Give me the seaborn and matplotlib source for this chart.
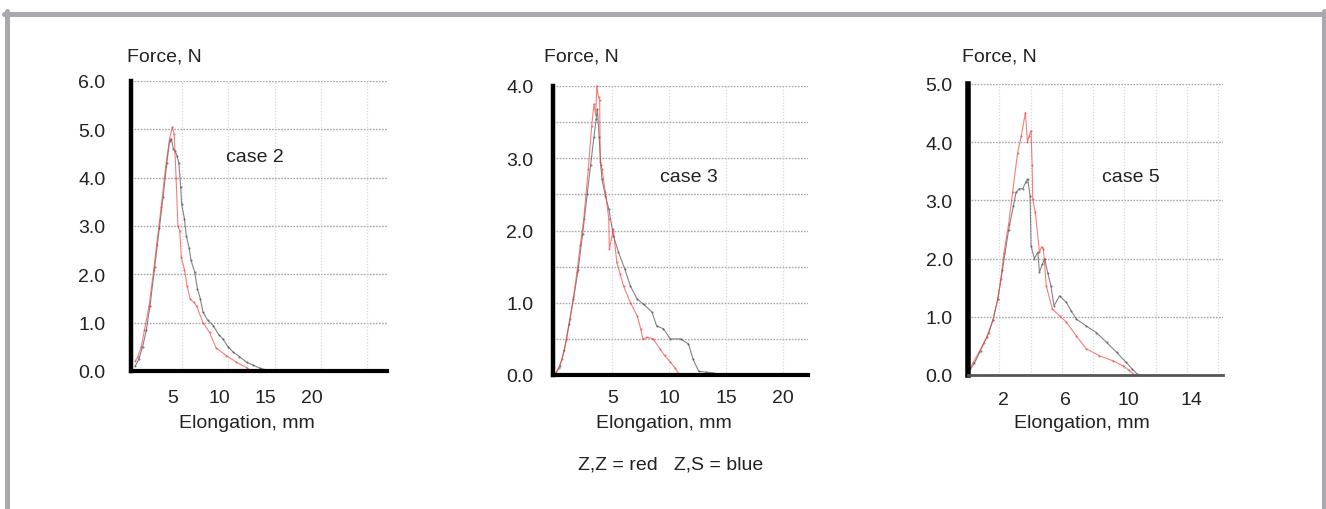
import matplotlib
matplotlib.use("Agg")
import matplotlib.pyplot as plt
import matplotlib.transforms as mtransforms
from matplotlib.lines import Line2D
import numpy as np
import pandas as pd
import seaborn as sns

# ---------------- data ----------------
case2_zz_x = [0.0, 0.3, 0.65, 1.0, 1.5, 2.0, 2.3, 2.8, 3.3, 3.7, 4.0, 4.2, 4.4, 4.6, 4.8, 4.96, 5.3, 5.6, 5.9, 6.3, 6.6, 7.3, 8.0, 8.7, 9.8, 10.9, 12.0, 12.5]
case2_zz_y = [0.2, 0.3, 0.5, 0.85, 1.35, 2.1, 2.6, 3.4, 4.25, 4.8, 5.05, 4.9, 4.0, 3.0, 2.9, 2.35, 2.1, 1.75, 1.5, 1.42, 1.35, 1.0, 0.8, 0.48, 0.32, 0.18, 0.07, 0.0]
case2_zs_x = [0.0, 0.4, 0.8, 1.2, 1.6, 2.1, 2.6, 3.0, 3.4, 3.7, 3.9, 4.1, 4.3, 4.5, 4.7, 4.9, 5.0, 5.3, 5.5, 5.8, 6.0, 6.4, 6.7, 7.0, 7.3, 7.8, 8.4, 9.0, 9.45, 10.0, 10.5, 11.2, 12.0, 12.7, 13.4, 14.2, 14.9]
case2_zs_y = [0.1, 0.25, 0.5, 0.85, 1.35, 2.15, 2.95, 3.6, 4.3, 4.75, 4.8, 4.6, 4.55, 4.45, 4.3, 3.8, 3.45, 3.15, 2.8, 2.55, 2.3, 2.05, 1.7, 1.5, 1.22, 1.05, 0.94, 0.75, 0.66, 0.5, 0.4, 0.3, 0.18, 0.12, 0.06, 0.02, 0.0]

case3_zz_x = [0.0, 0.3, 0.6, 1.0, 1.3, 1.6, 1.9, 2.2, 2.5, 2.9, 3.2, 3.4, 3.55, 3.65, 3.8, 3.9, 3.95, 4.1, 4.4, 4.7, 4.75, 5.1, 5.4, 5.7, 6.0, 6.6, 7.2, 7.5, 7.7, 8.1, 8.6, 9.2, 9.6, 10.1, 10.5, 10.8]
case3_zz_y = [0.02, 0.1, 0.22, 0.5, 0.78, 1.08, 1.42, 1.8, 2.16, 2.85, 3.45, 3.75, 3.6, 4.0, 3.85, 3.8, 2.95, 2.85, 2.53, 2.16, 1.74, 2.02, 1.56, 1.4, 1.23, 1.0, 0.82, 0.64, 0.5, 0.52, 0.5, 0.36, 0.27, 0.18, 0.1, 0.03]
case3_zs_x = [0.0, 0.4, 0.8, 1.2, 1.6, 2.0, 2.4, 2.8, 3.1, 3.4, 3.6, 3.7, 3.85, 4.0, 4.1, 4.4, 4.7, 5.1, 5.55, 6.1, 6.6, 7.2, 7.75, 8.5, 8.9, 9.5, 10.1, 11.0, 11.7, 12.1, 12.6, 13.2, 13.9]
case3_zs_y = [0.0, 0.12, 0.35, 0.7, 1.05, 1.45, 1.95, 2.5, 2.9, 3.3, 3.55, 3.68, 3.3, 2.9, 2.71, 2.48, 2.3, 1.93, 1.70, 1.47, 1.23, 1.05, 0.98, 0.87, 0.68, 0.64, 0.5, 0.5, 0.43, 0.22, 0.05, 0.04, 0.03]

case5_zz_x = [0.0, 0.3, 0.7, 1.0, 1.35, 1.6, 1.9, 2.1, 2.3, 2.6, 2.85, 3.17, 3.4, 3.67, 3.8, 3.9, 4.03, 4.1, 4.14, 4.3, 4.57, 4.7, 4.82, 5.0, 5.4, 5.85, 6.28, 6.93, 7.57, 8.4, 9.3, 9.9, 10.3, 10.55]
case5_zz_y = [0.05, 0.2, 0.39, 0.55, 0.73, 0.95, 1.3, 1.65, 2.1, 2.6, 3.14, 3.82, 4.1, 4.51, 4.0, 4.1, 4.2, 3.6, 3.02, 2.8, 2.11, 2.2, 2.17, 1.53, 1.13, 1.02, 0.91, 0.67, 0.45, 0.33, 0.24, 0.16, 0.08, 0.02]
case5_zs_x = [0.0, 0.4, 0.8, 1.2, 1.6, 1.9, 2.2, 2.6, 2.9, 3.07, 3.28, 3.5, 3.7, 3.81, 3.97, 4.03, 4.24, 4.46, 4.57, 4.75, 4.9, 5.1, 5.3, 5.5, 5.85, 6.28, 6.6, 6.93, 7.57, 8.2, 8.86, 9.5, 10.1, 10.5, 10.8]
case5_zs_y = [0.03, 0.2, 0.42, 0.65, 0.95, 1.3, 1.8, 2.5, 2.9, 3.14, 3.2, 3.2, 3.32, 3.37, 3.08, 2.22, 2.0, 2.11, 1.77, 1.9, 2.0, 1.75, 1.53, 1.19, 1.36, 1.25, 1.1, 0.96, 0.84, 0.73, 0.56, 0.39, 0.22, 0.1, 0.02]

case_names = ["case 2", "case 3", "case 5"]
y_ticks_list = [[0, 1, 2, 3, 4, 5, 6], [0, 1, 2, 3, 4], [0, 1, 2, 3, 4, 5]]
x_ticks_list = [[5, 10, 15, 20], [5, 10, 15, 20], [2, 6, 10, 14]]
y_label = "Force, N"
x_label = "Elongation, mm"
legend_note = "Z,Z = red   Z,S = blue"

# ---------------- styling ----------------
sns.set_theme(style="white")
plt.rcParams["font.family"] = ["Liberation Sans", "DejaVu Sans"]
FS = 14

W, H = 1326, 510
fig = plt.figure(figsize=(W / 100, H / 100), dpi=100)

def px(x, y):
    return x / W, 1 - y / H

# frame
frame_col = "#a7a9ac"
lw_frame = 5 * 0.72
fig.add_artist(Line2D([4 / W, 1], [1 - 14.5 / H] * 2, color=frame_col, lw=lw_frame, transform=fig.transFigure))
fig.add_artist(Line2D([6.5 / W] * 2, [0, 1 - 12 / H], color=frame_col, lw=lw_frame, transform=fig.transFigure))
fig.add_artist(Line2D([1323.5 / W] * 2, [0, 1 - 12 / H], color=frame_col, lw=lw_frame, transform=fig.transFigure))

panels = [
    dict(rect=(131, 82, 387, 372), xlim=(-0.45, 27.1), ylim=(0, 6),
         hgrid=1.0, vgrid=5, vmax=25, ypad=18.5, xpad=13.0, xshift=-9,
         zz=(case2_zz_x, case2_zz_y), zs=(case2_zs_x, case2_zs_y),
         ylab=(127, 57), xlab=(247, 424), case=(255, 157), bottom_col="black", bottom_lw=3),
    dict(rect=(553, 87, 808, 376), xlim=(-0.2, 22.2), ylim=(0, 4),
         hgrid=0.5, vgrid=5, vmax=20, ypad=14.0, xpad=10.0, xshift=0,
         zz=(case3_zz_x, case3_zz_y), zs=(case3_zs_x, case3_zs_y),
         ylab=(544, 57), xlab=(664, 424), case=(689, 178), bottom_col="black", bottom_lw=3),
    dict(rect=(968, 85, 1223, 376), xlim=(0, 16.3), ylim=(0, 5),
         hgrid=1.0, vgrid=2, vmax=16, ypad=11.0, xpad=11.5, xshift=4,
         zz=(case5_zz_x, case5_zz_y), zs=(case5_zs_x, case5_zs_y),
         ylab=(962, 57), xlab=(1082, 424), case=(1131, 178), bottom_col="#555555", bottom_lw=2),
]

palette = {"Z,Z": "#f04848", "Z,S": "#505050"}

for i, p in enumerate(panels):
    x0, y0, x1, y1 = p["rect"]
    ax = fig.add_axes([x0 / W, 1 - y1 / H, (x1 - x0) / W, (y1 - y0) / H])
    ax.set_facecolor("none")
    df = pd.concat([
        pd.DataFrame({"x": p["zs"][0], "y": p["zs"][1], "s": "Z,S"}),
        pd.DataFrame({"x": p["zz"][0], "y": p["zz"][1], "s": "Z,Z"}),
    ])
    sns.lineplot(data=df, x="x", y="y", hue="s", palette=palette, sort=False,
                 estimator=None, units="s", ax=ax, legend=False, lw=0.8, alpha=0.7,
                 marker=".", markersize=3, markeredgewidth=0, zorder=3, clip_on=False)
    ax.set_xlim(*p["xlim"])
    ax.set_ylim(*p["ylim"])
    ax.set_xlabel("")
    ax.set_ylabel("")
    # grids
    for yv in np.arange(p["hgrid"], p["ylim"][1] + 1e-9, p["hgrid"]):
        ax.axhline(yv, color="#a8a8a8", lw=1.0, ls=(0, (1.2, 1.0)), zorder=1)
    for xv in np.arange(p["vgrid"], p["vmax"] + 1e-9, p["vgrid"]):
        ax.axvline(xv, color="#d8d8d8", lw=0.9, ls=(0, (1.0, 1.5)), zorder=1)
    ax.set_xticks(x_ticks_list[i])
    ax.set_yticks(y_ticks_list[i])
    ax.set_yticklabels([f"{v:.1f}" for v in y_ticks_list[i]])
    ax.tick_params(axis="both", length=0, labelsize=FS, colors="#222222")
    ax.tick_params(axis="y", pad=p["ypad"])
    ax.tick_params(axis="x", pad=p["xpad"])
    off = mtransforms.ScaledTranslation(p["xshift"] / 100, 0, fig.dpi_scale_trans)
    for lab in ax.get_xticklabels():
        lab.set_transform(lab.get_transform() + off)
    for s in ["top", "right"]:
        ax.spines[s].set_visible(False)
    ax.spines["left"].set_color("black")
    ax.spines["left"].set_linewidth(3.2 if i < 2 else 4.0)
    ax.spines["bottom"].set_color(p["bottom_col"])
    ax.spines["bottom"].set_linewidth(p["bottom_lw"])
    ax.spines["left"].set_zorder(4)
    ax.spines["bottom"].set_zorder(4)

    fig.text(*px(*p["ylab"]), y_label, ha="left", va="center", fontsize=FS, color="#222222")
    fig.text(*px(*p["xlab"]), x_label, ha="center", va="center", fontsize=FS, color="#222222")
    fig.text(*px(*p["case"]), case_names[i], ha="center", va="center", fontsize=FS, color="#222222")

fig.text(*px(671, 465), legend_note, ha="center", va="center", fontsize=FS, color="#222222")

fig.savefig("out.png", dpi=100, facecolor="white")
